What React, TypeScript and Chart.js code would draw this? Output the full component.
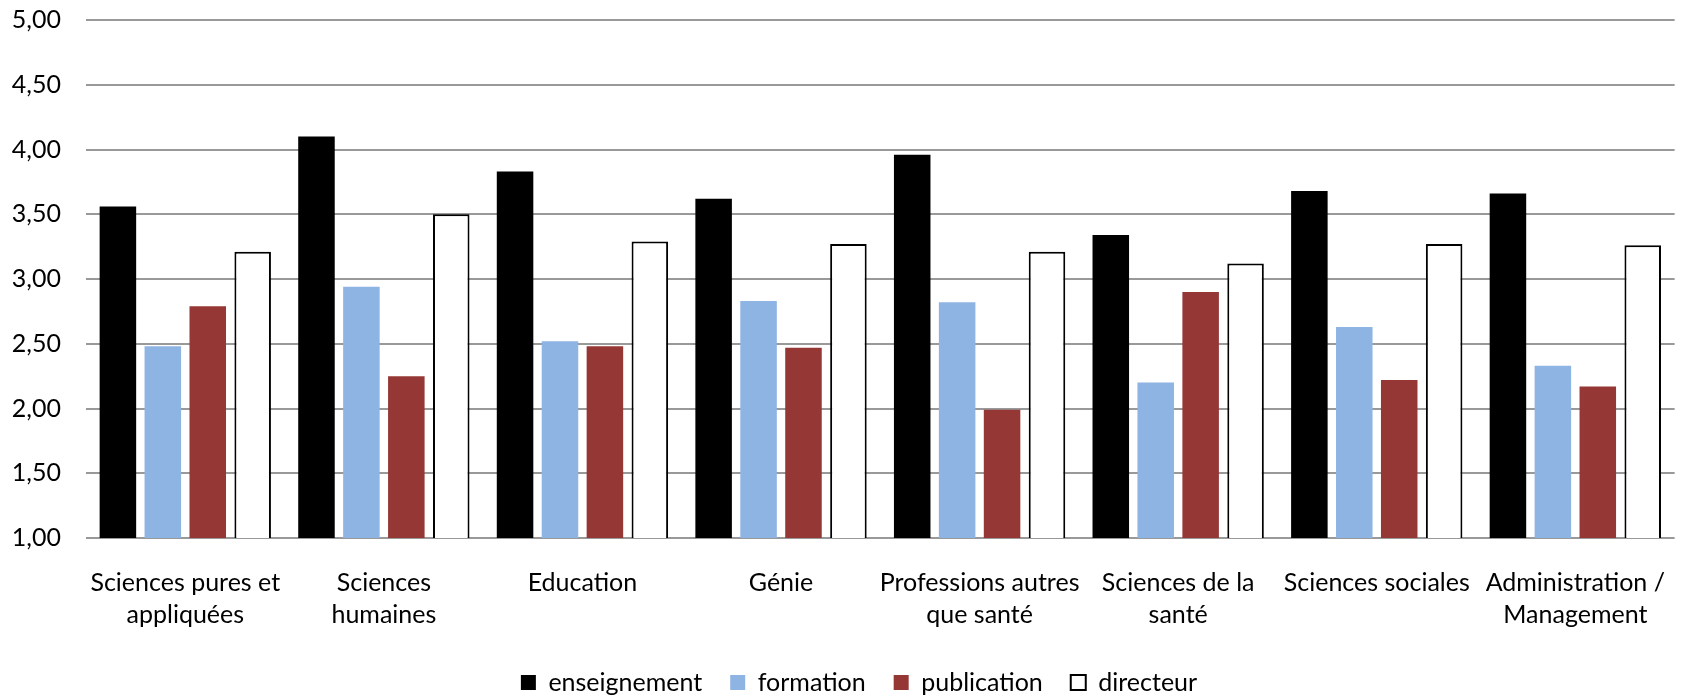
import React, { useEffect, useRef } from 'react';
import { Chart, registerables } from 'chart.js';

Chart.register(...registerables);

const categories: (string | string[])[] = [
  ['Sciences pures et', 'appliquées'],
  ['Sciences', 'humaines'],
  'Education',
  'Génie',
  ['Professions autres', 'que santé'],
  ['Sciences de la', 'santé'],
  'Sciences sociales',
  ['Administration /', 'Management'],
];

const seriesNames = ['enseignement', 'formation', 'publication', 'directeur'];
const enseignement = [3.56, 4.1, 3.83, 3.62, 3.96, 3.34, 3.68, 3.66];
const formation = [2.48, 2.94, 2.52, 2.83, 2.82, 2.2, 2.63, 2.33];
const publication = [2.79, 2.25, 2.48, 2.47, 1.99, 2.9, 2.22, 2.17];
const directeur = [3.21, 3.5, 3.29, 3.27, 3.21, 3.12, 3.27, 3.26];

const yMin = 1;
const yMax = 5;
const yStep = 0.5;

const FONT = 'Lato';

const legendShift = {
  id: 'legendShift',
  afterLayout(chart: any) {
    if (chart.legend) chart.legend.left += 24;
  },
};

export default function App() {
  const ref = useRef<HTMLCanvasElement | null>(null);

  useEffect(() => {
    if (!ref.current) return;
    const chart = new Chart(ref.current, {
      type: 'bar',
      data: {
        labels: categories,
        datasets: [
          { label: seriesNames[0], data: enseignement, backgroundColor: '#000000', borderWidth: 0 },
          { label: seriesNames[1], data: formation, backgroundColor: '#8EB4E3', borderWidth: 0 },
          { label: seriesNames[2], data: publication, backgroundColor: '#953735', borderWidth: 0 },
          { label: seriesNames[3], data: directeur, backgroundColor: '#FFFFFF', borderColor: '#000000', borderWidth: 2 },
        ],
      },
      plugins: [legendShift],
      options: {
        animation: false,
        responsive: true,
        maintainAspectRatio: false,
        datasets: { bar: { categoryPercentage: 0.905, barPercentage: 0.813 } },
        layout: { padding: { left: 0, top: 20, right: 0, bottom: -8 } },
        plugins: {
          tooltip: { enabled: false },
          legend: {
            position: 'bottom',
            labels: {
              boxWidth: 15,
              boxHeight: 15,
              padding: 28,
              color: '#000000',
              font: { family: FONT, size: 25 },
            },
          },
        },
        scales: {
          x: {
            grid: { display: false, drawTicks: false },
            border: { display: false },
            ticks: {
              color: '#000000',
              padding: 29,
              maxRotation: 0,
              autoSkip: false,
              font: { family: FONT, size: 25, lineHeight: 1.28 },
            },
            afterFit: (s: any) => { s.height = 104; },
          },
          y: {
            min: yMin,
            max: yMax,
            grid: { color: '#999999', lineWidth: 2, drawTicks: false },
            border: { display: false },
            ticks: {
              stepSize: yStep,
              color: '#000000',
              padding: 25,
              font: { family: FONT, size: 25 },
              callback: (v: any) => Number(v).toFixed(2).replace('.', ','),
            },
            afterFit: (s: any) => {
              s.width = 86;
              s.paddingTop = 0;
              s.paddingBottom = 0;
            },
          },
        },
      },
    });
    return () => chart.destroy();
  }, []);

  return (
    <div style={{ position: 'fixed', left: 0, top: 0, width: 1694, height: 697, background: '#ffffff' }}>
      <canvas ref={ref} />
    </div>
  );
}
